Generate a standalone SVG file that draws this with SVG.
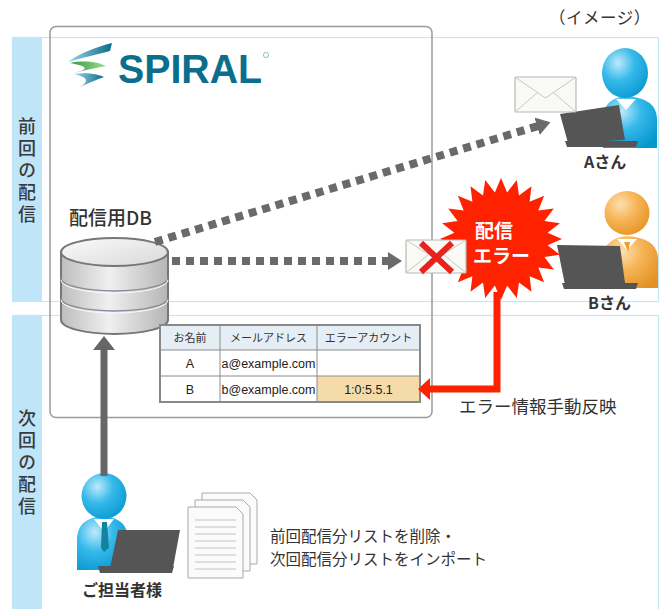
<svg xmlns="http://www.w3.org/2000/svg" width="664" height="609" viewBox="0 0 664 609">
  <style>
    .jp { font-family: 'Noto Sans CJK JP', 'Noto Sans', sans-serif; fill: #333; }
    .lbl { font-size: 16px; font-weight: 700; }
    .side { font-size: 18px; font-weight: 500; fill: #3a3a3a; writing-mode: vertical-rl; letter-spacing: 4px; }
    .cell { font-size: 11px; text-anchor: middle; }
    .val { font-family: 'Liberation Sans', Arial, sans-serif; font-size: 12.5px; fill: #222; text-anchor: middle; }
    .band { fill: #fff; stroke: #c4e7f8; stroke-width: 1.2; }
    .strip { fill: #bfe6f8; }
    .env { fill: #f9f9f5; stroke: #b8b8b8; stroke-width: 1.2; }
    .envline { fill: none; stroke: #c6c6c6; stroke-width: 1; }
    .laptop { fill: #555; }
    .dots { fill: none; stroke: #6a6a6a; stroke-width: 8; stroke-dasharray: 8 6; }
    .grid { fill: none; stroke: #8c8c8c; stroke-width: 1; }
    .page { fill: #fbfbfb; stroke: #a9a9a9; stroke-width: 1; }
    .pline { stroke: #c2c2c2; stroke-width: 1; }
    .burst { font-family: 'Noto Sans CJK JP', sans-serif; font-size: 19px; font-weight: 700; fill: #fff; }
  </style>
  <defs>
    <radialGradient id="blueSkin" cx="0.35" cy="0.3" r="0.8">
      <stop offset="0" stop-color="#bfe9fb"/>
      <stop offset="0.45" stop-color="#35b9ea"/>
      <stop offset="1" stop-color="#0797cf"/>
    </radialGradient>
    <radialGradient id="orangeSkin" cx="0.35" cy="0.3" r="0.8">
      <stop offset="0" stop-color="#fde0b0"/>
      <stop offset="0.45" stop-color="#f6b559"/>
      <stop offset="1" stop-color="#e39222"/>
    </radialGradient>
    <linearGradient id="cylSide" x1="0" y1="0" x2="1" y2="0">
      <stop offset="0" stop-color="#bdbdbd"/>
      <stop offset="0.45" stop-color="#f0f0f0"/>
      <stop offset="1" stop-color="#b5b5b5"/>
    </linearGradient>
    <linearGradient id="cylTop" x1="0" y1="0" x2="1" y2="1">
      <stop offset="0" stop-color="#fbfbfb"/>
      <stop offset="1" stop-color="#d8d8d8"/>
    </linearGradient>
    <linearGradient id="swirlA" x1="0" y1="0" x2="1" y2="0">
      <stop offset="0" stop-color="#9fd7e8"/>
      <stop offset="1" stop-color="#0a6b8a"/>
    </linearGradient>
    <linearGradient id="swirlB" x1="0" y1="0" x2="1" y2="0">
      <stop offset="0" stop-color="#2d9a46"/>
      <stop offset="1" stop-color="#a7d98a"/>
    </linearGradient>
    <marker id="dotHead" viewBox="0 0 14 18" refX="1" refY="9" markerWidth="14" markerHeight="18" markerUnits="userSpaceOnUse" orient="auto">
      <path d="M0,0 L14,9 L0,18 Z" fill="#6a6a6a"/>
    </marker>
    <marker id="grayHead" viewBox="0 0 14 22" refX="1" refY="11" markerWidth="14" markerHeight="22" markerUnits="userSpaceOnUse" orient="auto">
      <path d="M0,0 L14,11 L0,22 Z" fill="#666"/>
    </marker>
    <marker id="redHead" viewBox="0 0 12 22" refX="1" refY="11" markerWidth="12" markerHeight="22" markerUnits="userSpaceOnUse" orient="auto">
      <path d="M0,0 L12,11 L0,22 Z" fill="#ff2200"/>
    </marker>
  </defs>

  <rect width="664" height="609" fill="#fff"/>

  <!-- caption -->
  <text class="jp" x="549" y="24" font-size="16.5" letter-spacing="0.5">（イメージ）</text>

  <!-- previous delivery band -->
  <g id="band-previous">
    <rect class="band" x="12.5" y="37.5" width="646" height="264"/>
    <rect class="strip" x="12" y="37" width="30" height="265"/>
    <text class="jp side" x="27" y="117">前回の配信</text>
  </g>

  <!-- next delivery band -->
  <g id="band-next">
    <rect class="band" x="12.5" y="315.5" width="646" height="300"/>
    <rect class="strip" x="12" y="315" width="30" height="294"/>
    <text class="jp side" x="27" y="409">次回の配信</text>
  </g>

  <!-- SPIRAL system frame -->
  <g id="spiral-frame">
    <rect x="50" y="26.5" width="382" height="391" rx="6" fill="none" stroke="#9a9a9a" stroke-width="1.5"/>
  </g>

  <g id="logo">
    <path d="M112,43 C96,47 80,53 68,62 C82,58 98,54 110,51 Z" fill="url(#swirlA)"/>
    <path d="M70,63 C84,60 98,62 106,66 C96,68 84,70 74,73 C86,70 92,67 70,63 Z" fill="url(#swirlB)"/>
    <path d="M74,74 C86,72 98,74 104,77 C96,80 88,83 80,87 C88,82 90,78 74,74 Z" fill="url(#swirlA)"/>
    <text x="118" y="83" font-family="'Liberation Sans', Arial, sans-serif" font-weight="700" font-size="41" textLength="144" lengthAdjust="spacingAndGlyphs" fill="#0b6e8c">SPIRAL</text>
    <circle cx="266" cy="55" r="2.6" fill="none" stroke="#7aaabb" stroke-width="0.8"/>
  </g>

  <!-- delivery database -->
  <g id="db">
    <text class="jp" x="69" y="225" font-size="19" font-weight="500">配信用DB</text>
    <path d="M61,252 L61,320 A53.5,14 0 0 0 168,320 L168,252 Z" fill="url(#cylSide)" stroke="#777" stroke-width="2"/>
    <path d="M61,278 A53.5,13 0 0 0 168,278" fill="none" stroke="#8a8a9a" stroke-width="1.3"/>
    <path d="M61,280 A53.5,13 0 0 0 168,280" fill="none" stroke="#fafafa" stroke-width="1"/>
    <path d="M61,298 A53.5,13 0 0 0 168,298" fill="none" stroke="#8a8a9a" stroke-width="1.3"/>
    <path d="M61,300 A53.5,13 0 0 0 168,300" fill="none" stroke="#fafafa" stroke-width="1"/>
    <ellipse cx="114.5" cy="252" rx="53.5" ry="14" fill="url(#cylTop)" stroke="#777" stroke-width="2"/>
  </g>

  <!-- list table -->
  <g id="table">
    <rect x="160" y="325" width="260" height="25" fill="#e5eef5"/>
    <rect x="160" y="350" width="260" height="52" fill="#fff"/>
    <rect x="317" y="376" width="103" height="26" fill="#f4dba7"/>
    <path class="grid" d="M160,350 H420 M160,376 H420 M220,325 V402 M317,325 V402"/>
    <rect x="160" y="325" width="260" height="77" fill="none" stroke="#888" stroke-width="2"/>
    <text class="jp cell" x="190" y="342">お名前</text>
    <text class="jp cell" x="268.5" y="342">メールアドレス</text>
    <text class="jp cell" x="368.5" y="342">エラーアカウント</text>
    <text class="val" x="190" y="368">A</text>
    <text class="val" x="268.5" y="368">a@example.com</text>
    <text class="val" x="190" y="394">B</text>
    <text class="val" x="268.5" y="394">b@example.com</text>
    <text class="val" x="368.5" y="394">1:0:5.5.1</text>
  </g>

  <!-- recipient A -->
  <g id="recipient-a">
    <path d="M603,148 L603,118 Q604,98 626,96 Q656,98 657,118 L657,148 Z" fill="url(#blueSkin)"/>
    <path d="M616,99 L626,110 L636,99 Z" fill="#fff"/>
    <ellipse cx="625" cy="73" rx="23" ry="25" fill="url(#blueSkin)"/>
    <path class="laptop" d="M560,114 L619,105 L625,140 L568,143 Z"/>
    <path class="laptop" d="M565,141 L638,141 L636,147 L567,147 Z"/>
    <rect class="env" x="515" y="77" width="61" height="35" rx="1"/>
    <path class="envline" d="M515,77 L545.5,98 L576,77 M515,112 L537,93 M576,112 L554,93"/>
    <text class="jp lbl" x="584" y="168">Aさん</text>
  </g>

  <!-- recipient B -->
  <g id="recipient-b">
    <path d="M603,288 L603,258 Q604,238 627,236 Q657,238 658,258 L658,288 Z" fill="url(#orangeSkin)"/>
    <path d="M617,239 L627,250 L637,239 Z" fill="#fff"/>
    <path d="M624,242 L630,242 L628,252 Z" fill="#f39c2a"/>
    <ellipse cx="627" cy="213" rx="22.5" ry="22" fill="url(#orangeSkin)"/>
    <path class="laptop" d="M557,245 L620,246 L625,283 L565,285 Z"/>
    <path class="laptop" d="M562,283 L638,283 L636,289 L564,289 Z"/>
    <text class="jp lbl" x="588" y="309">Bさん</text>
  </g>

  <!-- delivery error burst -->
  <g id="error-burst">
    <polygon transform="translate(501,239)" fill="#ff2200" points="61,0 46.6,6.13 58.92,15.79 43.42,17.99 52.83,30.5 37.29,28.61 43.13,43.13 28.61,37.29 30.5,52.83 17.99,43.42 15.79,58.92 6.13,46.6 0,61 -6.13,46.6 -15.79,58.92 -17.99,43.42 -30.5,52.83 -28.61,37.29 -43.13,43.13 -37.29,28.61 -52.83,30.5 -43.42,17.99 -58.92,15.79 -46.6,6.13 -61,0 -46.6,-6.13 -58.92,-15.79 -43.42,-17.99 -52.83,-30.5 -37.29,-28.61 -43.13,-43.13 -28.61,-37.29 -30.5,-52.83 -17.99,-43.42 -15.79,-58.92 -6.13,-46.6 0,-61 6.13,-46.6 15.79,-58.92 17.99,-43.42 30.5,-52.83 28.61,-37.29 43.13,-43.13 37.29,-28.61 52.83,-30.5 43.42,-17.99 58.92,-15.79 46.6,-6.13"/>
    <text class="burst" x="475" y="238">配信</text>
    <text class="burst" x="473" y="263">エラー</text>
  </g>

  <!-- failed mail -->
  <g id="failed-mail">
    <rect class="env" x="406" y="240" width="60" height="33" rx="1"/>
    <path class="envline" d="M406,240 L436,259 L466,240 M406,273 L428,255 M466,273 L444,255"/>
    <path d="M421,243 L452,272 M452,243 L421,272" stroke="#e8231e" stroke-width="6"/>
  </g>

  <!-- operator -->
  <g id="operator">
    <path d="M77,570 L77,538 Q78,518 103,516 Q127,518 128,538 L128,570 Z" fill="url(#blueSkin)"/>
    <path d="M94,519 L104,532 L114,519 Z" fill="#fff"/>
    <path d="M102,522 L107,522 L109,548 L104,552 L101,548 Z" fill="#11829f"/>
    <ellipse cx="104" cy="496" rx="22.5" ry="23" fill="url(#blueSkin)"/>
    <path class="laptop" d="M118,530 L180,530 L173,568 L110,568 Z"/>
    <path class="laptop" d="M98,566 L174,566 L172,573 L100,573 Z"/>
    <text class="jp lbl" x="82" y="596" font-size="16.5">ご担当者様</text>
  </g>

  <!-- list documents -->
  <g id="docs">
    <path class="page" d="M202,493 H250 L257,500 V564 H202 Z"/>
    <path class="page" d="M195,500 H243 L250,507 V571 H195 Z"/>
    <path class="page" d="M188,507 H236 L243,514 V578 H188 Z"/>
    <path class="pline" d="M195,520 H236 M195,527 H236 M195,534 H236 M195,541 H236 M195,548 H236 M195,555 H236 M195,562 H236 M195,569 H236"/>
    <text class="jp" x="270" y="542" font-size="15.5">前回配信分リストを削除・</text>
    <text class="jp" x="270" y="565" font-size="15.5">次回配信分リストをインポート</text>
  </g>

  <!-- connectors -->
  <g id="connectors">
    <path class="dots" d="M155,242 L538,126" marker-end="url(#dotHead)"/>
    <path class="dots" d="M172,261 L389,261" marker-end="url(#dotHead)"/>
    <path d="M104,476 L104,349" stroke="#666" stroke-width="7" fill="none" marker-end="url(#grayHead)"/>
    <path d="M497,292 L497,389 L429,389" stroke="#ff2200" stroke-width="7" fill="none" marker-end="url(#redHead)"/>
    <text class="jp" x="459" y="413" font-size="17.5">エラー情報手動反映</text>
  </g>
</svg>
